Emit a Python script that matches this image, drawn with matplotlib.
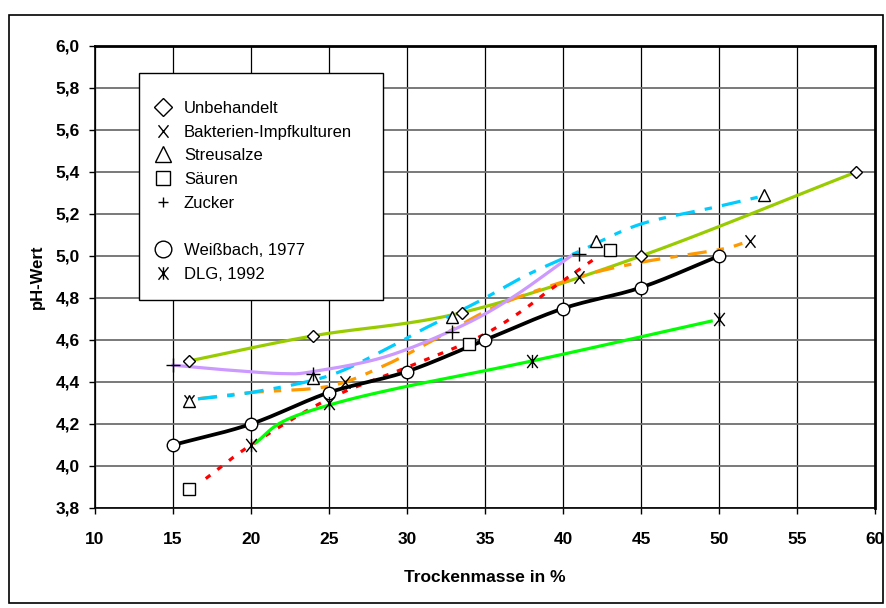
import numpy as np
import matplotlib
matplotlib.use("Agg")
import matplotlib.pyplot as plt
from matplotlib.lines import Line2D
from matplotlib.path import Path
from matplotlib.patches import Rectangle
from matplotlib.ticker import FuncFormatter

plt.rcParams['font.family'] = ['Liberation Sans', 'DejaVu Sans']

# ---------------- data ----------------
# measured points (markers)
unb_x = [16, 24, 33.5, 45, 58.8]
unb_y = [4.50, 4.62, 4.73, 5.00, 5.40]

bak_x = [16, 26, 41, 52]
bak_y = [4.31, 4.40, 4.90, 5.07]

salz_x = [16, 24, 32.9, 42.1, 52.9]
salz_y = [4.31, 4.42, 4.71, 5.07, 5.29]

saeure_x = [16, 34, 43]
saeure_y = [3.89, 4.58, 5.03]

zucker_x = [15, 24, 32.9, 41]
zucker_y = [4.48, 4.44, 4.64, 5.01]

weiss_x = [15, 20, 25, 30, 35, 40, 45, 50]
weiss_y = [4.10, 4.20, 4.35, 4.45, 4.60, 4.75, 4.85, 5.00]

dlg_x = [20, 25, 38, 50]
dlg_y = [4.10, 4.30, 4.50, 4.70]

# trend curves
unb_line_x = [16, 24, 33.5, 45, 58.8]
unb_line_y = [4.50, 4.62, 4.73, 5.00, 5.40]

bak_line_x = [16.6, 20, 25, 28.6, 32.2, 36, 41, 45, 50, 51.5]
bak_line_y = [4.32, 4.35, 4.38, 4.48, 4.62, 4.77, 4.90, 4.97, 5.03, 5.06]

salz_line_x = [16.6, 20, 25, 29, 31, 34.5, 37.7, 41, 44.9, 49.6, 52.5]
salz_line_y = [4.32, 4.35, 4.43, 4.57, 4.65, 4.78, 4.91, 5.02, 5.15, 5.23, 5.28]

saeure_line_x = [17.1, 20, 25, 30, 34.5, 37.2, 39, 41.9]
saeure_line_y = [3.94, 4.10, 4.32, 4.47, 4.61, 4.73, 4.83, 4.98]

zucker_line_x = [15, 18, 22, 24, 28.6, 33.3, 36.7, 40.5]
zucker_line_y = [4.48, 4.46, 4.44, 4.45, 4.52, 4.66, 4.80, 5.00]

weiss_line_x = weiss_x
weiss_line_y = weiss_y

dlg_line_x = [20.3, 22, 25, 29.4, 38, 49.5]
dlg_line_y = [4.11, 4.21, 4.29, 4.37, 4.50, 4.69]

labels = ["Unbehandelt", "Bakterien-Impfkulturen", "Streusalze", "Säuren",
          "Zucker", " ", "Weißbach, 1977", "DLG, 1992"]
x_ticks = [10, 15, 20, 25, 30, 35, 40, 45, 50, 55, 60]
y_ticks = [3.8, 4.0, 4.2, 4.4, 4.6, 4.8, 5.0, 5.2, 5.4, 5.6, 5.8, 6.0]


def smooth(x, y, n=24):
    pts = np.column_stack([x, y]).astype(float)
    P = np.vstack([2 * pts[0] - pts[1], pts, 2 * pts[-1] - pts[-2]])
    out = []
    t = np.linspace(0, 1, n, endpoint=False)[:, None]
    for i in range(1, len(P) - 2):
        p0, p1, p2, p3 = P[i - 1], P[i], P[i + 1], P[i + 2]
        seg = 0.5 * ((2 * p1) + (-p0 + p2) * t
                     + (2 * p0 - 5 * p1 + 4 * p2 - p3) * t ** 2
                     + (-p0 + 3 * p1 - 3 * p2 + p3) * t ** 3)
        out.append(seg)
    out.append(P[-2][None, :])
    s = np.vstack(out)
    return s[:, 0], s[:, 1]


# custom markers
x_marker = Path([(-0.4, -0.5), (0.4, 0.5), (-0.4, 0.5), (0.4, -0.5)],
                [Path.MOVETO, Path.LINETO, Path.MOVETO, Path.LINETO])
dlg_marker = Path([(-0.4, -0.5), (0.4, 0.5), (-0.4, 0.5), (0.4, -0.5), (0, -0.5), (0, 0.5)],
                  [Path.MOVETO, Path.LINETO, Path.MOVETO, Path.LINETO, Path.MOVETO, Path.LINETO])

W, H = 887, 608
fig = plt.figure(figsize=(W / 100, H / 100), dpi=100)
L, R, T, B = 95, 875, 46, 508
ax = fig.add_axes([L / W, 1 - B / H, (R - L) / W, (B - T) / H])
ax.set_xlim(10, 60)
ax.set_ylim(3.8, 6.0)

# grid
for xv in x_ticks:
    ax.axvline(xv, color='black', lw=0.9, zorder=0)
for yv in y_ticks:
    ax.axhline(yv, color='#6e6e6e', lw=1.3, zorder=0)

lw = 2.3
# lines
ax.plot(*smooth(unb_line_x, unb_line_y), color='#99CC00', lw=lw, zorder=2)
ax.plot(*smooth(bak_line_x, bak_line_y), color='#FF9900', lw=lw, zorder=2,
        dashes=(6, 3.2, 2.3, 3.2))
ax.plot(*smooth(salz_line_x, salz_line_y), color='#00CCFF', lw=lw, zorder=2,
        dashes=(6, 3.2, 2.3, 3.2))
ax.plot(*smooth(saeure_line_x, saeure_line_y), color='#FF0000', lw=lw, zorder=2,
        dashes=(1.8, 2.8))
ax.plot(*smooth(zucker_line_x, zucker_line_y), color='#CC99FF', lw=lw, zorder=2)
ax.plot(*smooth(weiss_line_x, weiss_line_y), color='black', lw=lw + 0.4, zorder=2)
ax.plot(*smooth(dlg_line_x, dlg_line_y), color='#00FF00', lw=lw, zorder=2)

# markers
mk = dict(ls='none', mec='black', mew=1.0, zorder=4)
ax.plot(unb_x, unb_y, marker='D', ms=6.2, mfc='white', **mk)
ax.plot(bak_x, bak_y, marker=x_marker, ms=9, mfc='none', **mk)
ax.plot(salz_x, salz_y, marker='^', ms=9, mfc='white', **mk)
ax.plot(saeure_x, saeure_y, marker='s', ms=8, mfc='white', **mk)
ax.plot(zucker_x, zucker_y, marker='+', ms=10, **mk)
ax.plot(weiss_x, weiss_y, marker='o', ms=9, mfc='white', **mk)
ax.plot(dlg_x, dlg_y, marker=dlg_marker, ms=9.5, mfc='none', **mk)

# legend
lk = dict(ls='none', mec='black', mew=1.0)
handles = [
    Line2D([], [], marker='D', ms=9, mfc='white', **lk),
    Line2D([], [], marker=x_marker, ms=9, mfc='none', **lk),
    Line2D([], [], marker='^', ms=11, mfc='white', **lk),
    Line2D([], [], marker='s', ms=9.5, mfc='white', **lk),
    Line2D([], [], marker='+', ms=7, **lk),
    Line2D([], [], ls='none'),
    Line2D([], [], marker='o', ms=12, mfc='white', **lk),
    Line2D([], [], marker=dlg_marker, ms=9, mfc='none', **lk),
]
x0 = (139 - L) / (R - L)
x1 = (383 - L) / (R - L)
ytop = (B - 73) / (B - T)
leg = ax.legend(handles, labels, loc='upper left',
                bbox_to_anchor=(x0, ytop - 0.5, x1 - x0, 0.5), mode='expand',
                fontsize=12, frameon=True, fancybox=False, edgecolor='black',
                framealpha=1, borderpad=1.1, handlelength=0.7, handletextpad=0.9,
                labelspacing=0.52, borderaxespad=0, title=' ', title_fontsize=1)
leg.get_frame().set_linewidth(1.0)
leg.set_zorder(5)

# axes styling
for s in ['left', 'bottom']:
    ax.spines[s].set_linewidth(1.2)
for s in ['top', 'right']:
    ax.spines[s].set_linewidth(2.0)
ax.set_xticks(x_ticks)
ax.set_yticks(y_ticks)
ax.yaxis.set_major_formatter(FuncFormatter(lambda v, p: f"{v:.1f}".replace('.', ',')))
ax.tick_params(axis='y', direction='out', length=4, width=1, pad=7, labelsize=12.5)
ax.tick_params(axis='x', direction='out', length=4, width=1, pad=13, labelsize=12.5)
for lab in ax.get_xticklabels() + ax.get_yticklabels():
    lab.set_fontweight('bold')

ax.set_xlabel("Trockenmasse in %", fontsize=12.5, fontweight='bold')
ax.xaxis.set_label_coords(0.5, (B - 577) / (B - T))
ax.xaxis.label.set_va('center')
ax.set_ylabel("pH-Wert", fontsize=12, fontweight='bold')
ax.yaxis.set_label_coords((37 - L) / (R - L), 0.5)
ax.yaxis.label.set_va('center')

fig.add_artist(Rectangle((9 / W, 1 - 603 / H), (883 - 9) / W, (603 - 15) / H,
                         transform=fig.transFigure, fill=False, lw=1.2, ec='black'))

fig.savefig("out.png", dpi=100)
